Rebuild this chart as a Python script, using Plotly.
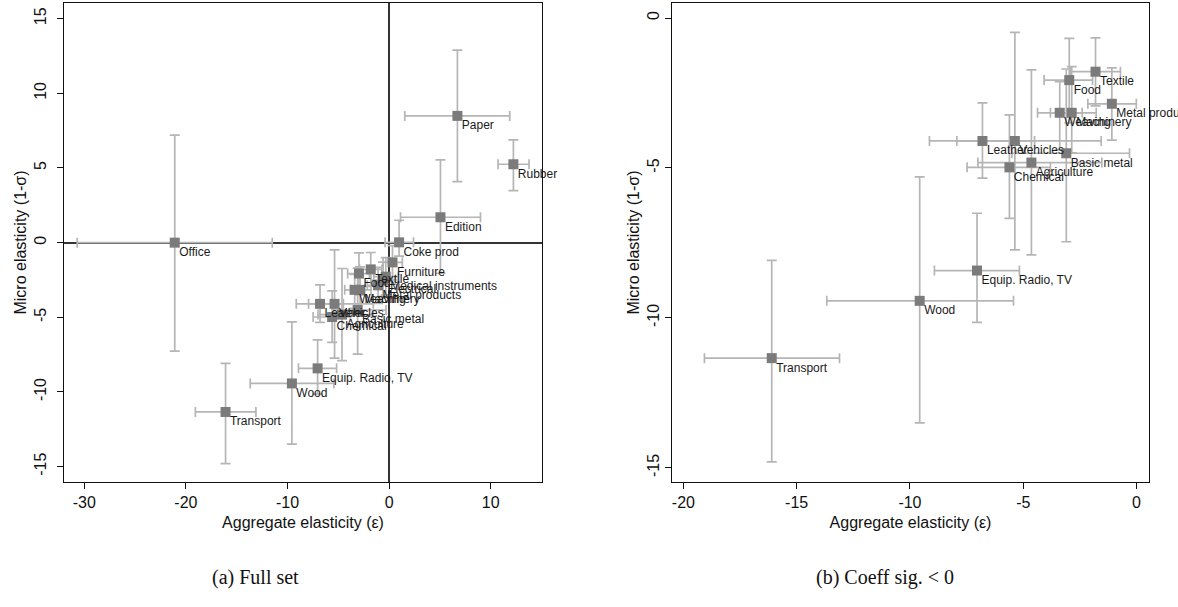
import plotly.graph_objects as go

# ---------------- data ----------------
names = ["Office", "Paper", "Rubber", "Edition", "Coke prod", "Furniture",
         "Medical instruments", "Electrical", "Textile", "Food", "Metal products",
         "Weaving", "Machinery", "Leather", "Vehicles", "Basic metal",
         "Agriculture", "Chemical", "Equip. Radio, TV", "Wood", "Transport"]
agg = [-21.1, 6.72, 12.23, 5.05, 0.98, 0.33, -0.33, -0.6, -1.81, -2.97, -1.09,
       -3.39, -2.86, -6.8, -5.37, -3.1, -4.64, -5.61, -7.04, -9.57, -16.1]
agg_lo = [-30.7, 1.54, 10.72, 1.12, -0.4, -0.6, -1.5, -1.8, -2.91, -4.08, -2.15,
          -4.37, -3.8, -9.14, -7.93, -5.5, -7.0, -7.48, -8.92, -13.67, -19.07]
agg_hi = [-11.5, 11.87, 13.77, 8.99, 2.4, 1.3, 0.9, 0.6, -0.71, -1.94, -0.01,
          -2.4, -1.78, -4.5, -1.56, -0.31, -1.53, -3.8, -5.17, -5.43, -13.11]
micro = [0.0, 8.49, 5.25, 1.7, 0.02, -1.32, -2.28, -2.5, -1.79, -2.07, -2.86,
         -3.16, -3.16, -4.1, -4.1, -4.51, -4.82, -4.98, -8.42, -9.43, -11.34]
micro_lo = [-7.26, 4.09, 3.48, -2.05, -0.9, -2.5, -3.5, -3.6, -2.93, -3.5, -4.07,
            -4.4, -4.5, -5.34, -7.73, -7.46, -7.9, -6.68, -10.15, -13.5, -14.8]
micro_hi = [7.2, 12.9, 6.88, 5.54, 1.5, -0.2, -1.0, -1.3, -0.66, -0.68, -1.66,
            -2.12, -1.62, -2.83, -0.48, -1.7, -1.73, -3.23, -6.51, -5.3, -8.08]
# sectors whose coefficient is significantly negative (panel b)
sig_neg = ["Textile", "Food", "Metal products", "Weaving", "Machinery", "Leather",
           "Vehicles", "Basic metal", "Agriculture", "Chemical", "Equip. Radio, TV",
           "Wood", "Transport"]

left_xticks = [-30, -20, -10, 0, 10]
left_yticks = [-15, -10, -5, 0, 5, 10, 15]
right_xticks = [-20, -15, -10, -5, 0]
right_yticks = [-15, -10, -5, 0]
captions = ["(a) Full set", "(b) Coeff sig. < 0"]

MARK = "#7b7b7b"
ERR = "#b5b5b5"
FONT = "Liberation Sans, Arial, sans-serif"


def traces(idx, xa, ya):
    x = [agg[i] for i in idx]
    y = [micro[i] for i in idx]
    pts = go.Scatter(
        x=x, y=y, mode="markers", xaxis=xa, yaxis=ya,
        marker=dict(symbol="square", size=10, color=MARK),
        error_x=dict(type="data", symmetric=False,
                     array=[agg_hi[i] - agg[i] for i in idx],
                     arrayminus=[agg[i] - agg_lo[i] for i in idx],
                     color=ERR, thickness=1.7, width=5),
        error_y=dict(type="data", symmetric=False,
                     array=[micro_hi[i] - micro[i] for i in idx],
                     arrayminus=[micro[i] - micro_lo[i] for i in idx],
                     color=ERR, thickness=1.7, width=5),
        cliponaxis=True, showlegend=False, hoverinfo="skip")
    labels = go.Scatter(
        x=x, y=y, mode="markers+text", xaxis=xa, yaxis=ya,
        marker=dict(size=5.5, opacity=0),
        text=[names[i] for i in idx], textposition="bottom right",
        textfont=dict(family=FONT, size=12, color="#1a1a1a"),
        cliponaxis=False, showlegend=False, hoverinfo="skip")
    return [pts, labels]


fig = go.Figure()
fig.add_traces(traces(list(range(len(names))), "x", "y"))
fig.add_traces(traces([names.index(n) for n in sig_neg], "x2", "y2"))

axis_common = dict(showline=True, linecolor="#111", linewidth=1.2, mirror=True,
                   ticks="outside", ticklen=6, tickcolor="#111", showgrid=False,
                   tickfont=dict(family=FONT, size=16, color="#111"))
title_font = dict(family=FONT, size=16, color="#111")

fig.update_layout(
    width=1178, height=607, plot_bgcolor="white", paper_bgcolor="white",
    margin=dict(l=64, r=29, t=3, b=125),
    xaxis=dict(domain=[0, 0.4406], range=[-32, 15.05], tickvals=left_xticks,
               ticktext=[str(v) for v in left_xticks],
               zeroline=True, zerolinecolor="#333", zerolinewidth=1.5,
               title=dict(text="Aggregate elasticity (ε)", font=title_font, standoff=6),
               **axis_common),
    yaxis=dict(range=[-16.03, 16.05], tickvals=left_yticks,
               ticktext=[str(v) for v in left_yticks], tickangle=-90,
               ticklabelstandoff=5,
               zeroline=True, zerolinecolor="#333", zerolinewidth=1.5,
               title=dict(text="Micro elasticity (1-σ)", font=title_font, standoff=0),
               **axis_common),
    xaxis2=dict(domain=[0.5604, 1], range=[-20.5, 0.55], tickvals=right_xticks,
                ticktext=[str(v) for v in right_xticks],
                anchor="y2", zeroline=False,
                title=dict(text="Aggregate elasticity (ε)", font=title_font, standoff=6),
                **axis_common),
    yaxis2=dict(range=[-15.47, 0.5], tickvals=right_yticks,
                ticktext=[str(v) for v in right_yticks], tickangle=-90,
                anchor="x2", zeroline=False,
                title=dict(text="Micro elasticity (1-σ)", font=title_font, standoff=0),
                **axis_common),
)

cap_x = [(255 - 64) / 1085, (885 - 64) / 1085]
for cx, txt in zip(cap_x, captions):
    fig.add_annotation(x=cx, y=-(577 - 482) / 479, xref="paper", yref="paper",
                       text=txt, showarrow=False, xanchor="center", yanchor="middle",
                       font=dict(family="Liberation Serif, serif", size=20, color="#111"))

fig.write_html("out.html", config={"displayModeBar": False},
               post_script="document.body.style.margin='0';document.body.style.overflow='hidden';")
